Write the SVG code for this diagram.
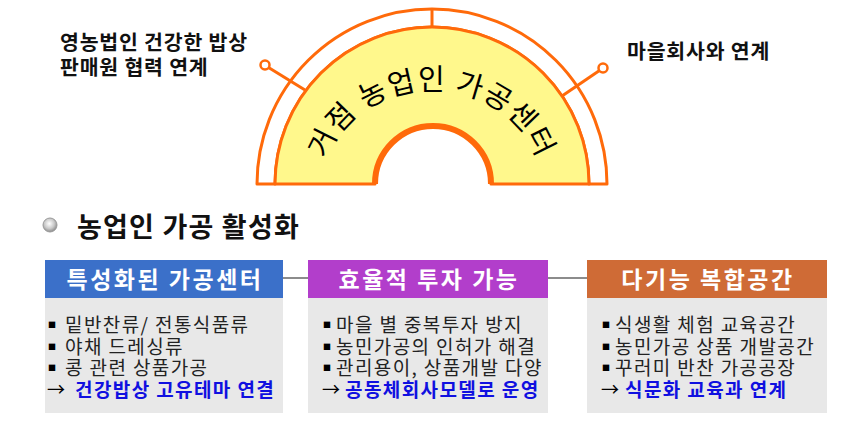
<svg xmlns="http://www.w3.org/2000/svg" width="852" height="446" viewBox="0 0 852 446">
<style>
text{font-family:"Noto Sans CJK KR","Noto Sans",sans-serif;}
.lbl{font-size:20.5px;font-weight:bold;fill:#111;letter-spacing:0.8px;}
.hdr{font-size:23px;font-weight:bold;fill:#fff;text-anchor:middle;letter-spacing:2.5px;}
.body{font-size:19px;fill:#222;letter-spacing:1.4px;}
.bul{font-size:8px;fill:#000;}
.arr{font-size:18px;fill:#000;}
.blue{font-size:19px;fill:#1010e0;font-weight:bold;letter-spacing:1.4px;}
.arc{fill:none;stroke:#ff6a0a;stroke-width:3;stroke-linejoin:round;}
.conn{stroke:#666;stroke-width:1.5;fill:none;}
</style>
<defs>
<radialGradient id="sph" cx="45%" cy="40%" r="60%">
<stop offset="0" stop-color="#ffffff"/>
<stop offset="0.6" stop-color="#c8c8c8"/>
<stop offset="1" stop-color="#8a8a8a"/>
</radialGradient>
<path id="tp" d="M 323 184 A 109 94 0 0 1 541 184"/>
</defs>
<rect width="852" height="446" fill="#fff"/>

<g id="arch">
<path class="arc" style="fill:#fff" d="M 257 184 A 175 175 0 0 1 607 184 L 589 184 A 157 157 0 0 0 275 184 Z"/>
<path class="arc" style="fill:#fff88c" d="M 275 184 A 157 157 0 0 1 589 184 L 491 184 A 58 58 0 0 0 375 184 Z"/>
<path class="arc" style="stroke-width:6" d="M 375 184 A 58 58 0 0 1 491 184"/>
<line class="arc" x1="432" y1="9" x2="432" y2="27"/>
<line class="arc" x1="268.5" y1="67.5" x2="305" y2="90"/>
<circle class="arc" style="fill:#fff;stroke-width:2.5" cx="265" cy="65" r="4.5"/>
<line class="arc" x1="599.5" y1="70.5" x2="562" y2="96"/>
<circle class="arc" style="fill:#fff;stroke-width:2.5" cx="603" cy="68" r="4.5"/>
<text style="font-size:29px;fill:#000;letter-spacing:1.5px"><textPath href="#tp" startOffset="50%" text-anchor="middle">거점 농업인 가공센터</textPath></text>
</g>

<g id="label-left">
<text class="lbl" x="60" y="50">영농법인 건강한 밥상</text>
<text class="lbl" x="60" y="75">판매원 협력 연계</text>
</g>
<g id="label-right">
<text class="lbl" x="627" y="59">마을회사와 연계</text>
</g>

<g id="heading">
<circle cx="50" cy="225" r="7" fill="url(#sph)" stroke="#9a9a9a" stroke-width="1"/>
<text x="77" y="237" style="font-size:27px;font-weight:bold;fill:#111;letter-spacing:1.2px">농업인 가공 활성화</text>
</g>

<g id="connectors">
<line class="conn" x1="283" y1="278" x2="308" y2="278"/>
<line class="conn" x1="548" y1="278" x2="587" y2="278"/>
</g>

<g id="box1">
<rect x="45" y="298" width="238" height="115" fill="#e8e8e8"/>
<rect x="45" y="260" width="238" height="38" fill="#3b70c9"/>
<text class="hdr" x="165" y="288">특성화된 가공센터</text>
<text class="bul" x="48" y="328">■</text>
<text class="body" x="65" y="332">밑반찬류/ 전통식품류</text>
<text class="bul" x="48" y="350">■</text>
<text class="body" x="65" y="354">야채 드레싱류</text>
<text class="bul" x="48" y="371">■</text>
<text class="body" x="65" y="375">콩 관련 상품가공</text>
<text class="arr" x="47" y="396">→</text>
<text class="blue" x="75" y="397">건강밥상 고유테마 연결</text>
</g>

<g id="box2">
<rect x="308" y="298" width="240" height="115" fill="#e8e8e8"/>
<rect x="308" y="260" width="240" height="38" fill="#b23ecb"/>
<text class="hdr" x="429" y="288">효율적 투자 가능</text>
<text class="bul" x="323" y="328">■</text>
<text class="body" x="336" y="332">마을 별 중복투자 방지</text>
<text class="bul" x="323" y="350">■</text>
<text class="body" x="336" y="354">농민가공의 인허가 해결</text>
<text class="bul" x="323" y="371">■</text>
<text class="body" x="336" y="375">관리용이, 상품개발 다양</text>
<text class="arr" x="322" y="396">→</text>
<text class="blue" x="345" y="397">공동체회사모델로 운영</text>
</g>

<g id="box3">
<rect x="587" y="298" width="240" height="115" fill="#e8e8e8"/>
<rect x="587" y="260" width="240" height="38" fill="#cf6b36"/>
<text class="hdr" x="708" y="288">다기능 복합공간</text>
<text class="bul" x="602" y="328">■</text>
<text class="body" x="615" y="332">식생활 체험 교육공간</text>
<text class="bul" x="602" y="350">■</text>
<text class="body" x="615" y="354">농민가공 상품 개발공간</text>
<text class="bul" x="602" y="371">■</text>
<text class="body" x="615" y="375">꾸러미 반찬 가공공장</text>
<text class="arr" x="601" y="396">→</text>
<text class="blue" x="625" y="397">식문화 교육과 연계</text>
</g>
</svg>
